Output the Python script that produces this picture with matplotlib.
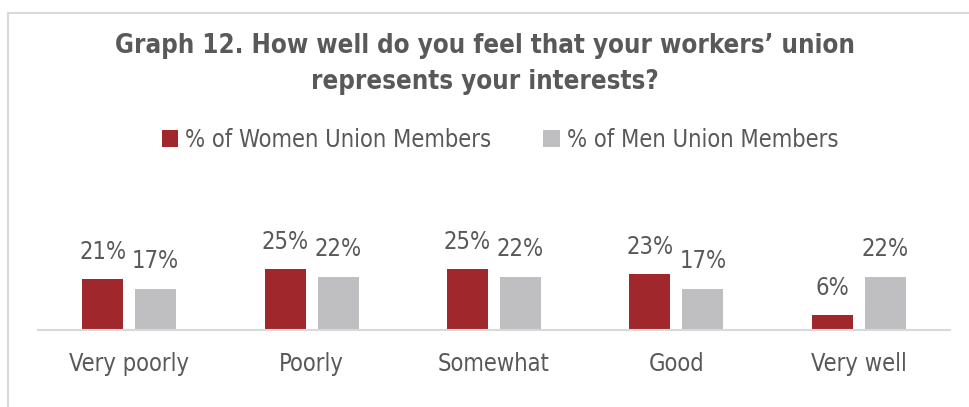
import numpy as np
import matplotlib
matplotlib.use('Agg')
import matplotlib.pyplot as plt
from matplotlib.lines import Line2D

plt.rcParams['font.family'] = 'DejaVu Sans'
plt.rcParams['font.stretch'] = 'condensed'

categories = ['Very poorly', 'Poorly', 'Somewhat', 'Good', 'Very well']
women = [21, 25, 25, 23, 6]
men = [17, 22, 22, 17, 22]
series_names = ['% of Women Union Members', '% of Men Union Members']

red = '#A0282C'
grey = '#BFBFC1'
text_col = '#595959'

W, H = 970, 407
fig = plt.figure(figsize=(W / 100, H / 100), dpi=100)

# chart frame (only top and left visible in the crop)
fig.add_artist(Line2D([8 / W, 1], [1 - 12.5 / H] * 2, color='#D9D9D9', lw=1.5))
fig.add_artist(Line2D([8.5 / W] * 2, [0, 1 - 12.5 / H], color='#D9D9D9', lw=1.5))

ax = fig.add_axes([38 / W, (H - 330) / H, 912 / W, 170 / H])
x = np.arange(len(categories))
bw = 0.225
off = 0.145
b1 = ax.bar(x - off, women, bw, color=red, label=series_names[0])
b2 = ax.bar(x + off, men, bw, color=grey, label=series_names[1])

for bars, vals in ((b1, women), (b2, men)):
    for r, v in zip(bars, vals):
        ax.annotate(f'{v}%', (r.get_x() + r.get_width() / 2, v),
                    xytext=(0, 11), textcoords='offset points',
                    ha='center', va='bottom', fontsize=17, color=text_col)

ax.set_xlim(-0.5, len(categories) - 0.5)
ax.set_ylim(0, 70)
ax.set_xticks(x)
ax.set_xticklabels(categories, fontsize=17, color=text_col)
ax.tick_params(axis='x', length=0, pad=16)
ax.set_yticks([])
for s in ['top', 'right', 'left']:
    ax.spines[s].set_visible(False)
ax.spines['bottom'].set_color('#D9D9D9')
ax.spines['bottom'].set_linewidth(1.5)

fig.text(485 / W, 1 - 46 / H, 'Graph 12. How well do you feel that your workers\u2019 union',
         ha='center', va='center', fontsize=18.5, fontweight='bold', color=text_col)
fig.text(485 / W, 1 - 82 / H, 'represents your interests?',
         ha='center', va='center', fontsize=18.5, fontweight='bold', color=text_col)

fig.legend(handles=[b1, b2], labels=series_names, loc='center',
           bbox_to_anchor=(500 / W, 1 - 140 / H), ncol=2, frameon=False,
           fontsize=17, labelcolor=text_col, handlelength=0.7, handleheight=0.7,
           handletextpad=0.3, columnspacing=2.2)

fig.savefig('out.png', dpi=100)
